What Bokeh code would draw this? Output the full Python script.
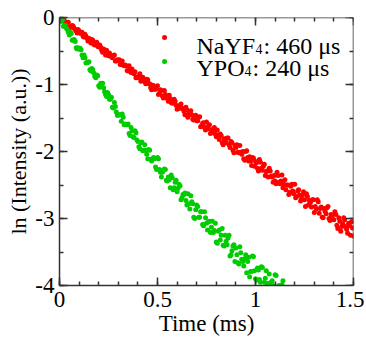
from bokeh.plotting import figure
from bokeh.models import Range1d, LinearAxis, Label, SingleIntervalTicker, CustomJSTickFormatter
from bokeh.embed import file_html
from bokeh.resources import INLINE

# ---------------- data ----------------
time_ms = [
    0.00, 0.01, 0.02, 0.03, 0.04, 0.05, 0.06, 0.07, 0.08, 0.09,
    0.10, 0.11, 0.12, 0.13, 0.14, 0.15, 0.16, 0.17, 0.18, 0.19,
    0.20, 0.21, 0.22, 0.23, 0.24, 0.25, 0.26, 0.27, 0.28, 0.29,
    0.30, 0.31, 0.32, 0.33, 0.34, 0.35, 0.36, 0.37, 0.38, 0.39,
    0.40, 0.41, 0.42, 0.43, 0.44, 0.45, 0.46, 0.47, 0.48, 0.49,
    0.50, 0.51, 0.52, 0.53, 0.54, 0.55, 0.56, 0.57, 0.58, 0.59,
    0.60, 0.61, 0.62, 0.63, 0.64, 0.65, 0.66, 0.67, 0.68, 0.69,
    0.70, 0.71, 0.72, 0.73, 0.74, 0.75, 0.76, 0.77, 0.78, 0.79,
    0.80, 0.81, 0.82, 0.83, 0.84, 0.85, 0.86, 0.87, 0.88, 0.89,
    0.90, 0.91, 0.92, 0.93, 0.94, 0.95, 0.96, 0.97, 0.98, 0.99,
    1.00, 1.01, 1.02, 1.03, 1.04, 1.05, 1.06, 1.07, 1.08, 1.09,
    1.10, 1.11, 1.12, 1.13, 1.14, 1.15, 1.16, 1.17, 1.18, 1.19,
    1.20, 1.21, 1.22, 1.23, 1.24, 1.25, 1.26, 1.27, 1.28, 1.29,
    1.30, 1.31, 1.32, 1.33, 1.34, 1.35, 1.36, 1.37, 1.38, 1.39,
    1.40, 1.41, 1.42, 1.43, 1.44, 1.45, 1.46, 1.47, 1.48, 1.49, 1.50,
]

ln_nayf4 = [
    0.01, -0.04, -0.02, -0.07, -0.07, -0.14, -0.13, -0.13, -0.18, -0.23,
    -0.20, -0.24, -0.28, -0.25, -0.31, -0.31, -0.38, -0.34, -0.41, -0.37,
    -0.44, -0.44, -0.52, -0.49, -0.49, -0.57, -0.56, -0.60, -0.56, -0.65,
    -0.64, -0.70, -0.65, -0.72, -0.72, -0.80, -0.78, -0.77, -0.84, -0.90,
    -0.90, -0.84, -0.93, -0.93, -0.99, -0.93, -0.99, -1.08, -1.02, -1.07,
    -1.02, -1.13, -1.09, -1.20, -1.15, -1.21, -1.16, -1.27, -1.26, -1.25,
    -1.37, -1.35, -1.29, -1.36, -1.45, -1.38, -1.44, -1.39, -1.52, -1.48,
    -1.54, -1.49, -1.63, -1.58, -1.64, -1.56, -1.66, -1.73, -1.67, -1.64,
    -1.78, -1.76, -1.74, -1.87, -1.81, -1.87, -1.80, -1.94, -1.87, -2.02,
    -1.94, -2.01, -1.91, -2.04, -2.11, -2.00, -2.09, -2.08, -2.21, -2.10,
    -2.15, -2.25, -2.12, -2.25, -2.22, -2.36, -2.29, -2.25, -2.37, -2.46,
    -2.44, -2.31, -2.46, -2.44, -2.54, -2.42, -2.50, -2.64, -2.52, -2.59,
    -2.49, -2.67, -2.57, -2.74, -2.65, -2.72, -2.63, -2.80, -2.76, -2.72,
    -2.91, -2.86, -2.75, -2.85, -2.98, -2.85, -2.93, -2.82, -3.03, -2.95,
    -3.02, -2.94, -3.15, -3.04, -3.12, -2.99, -3.12, -3.22, -3.11, -3.05, -3.26,
]

ln_ypo4 = [
    0.01, -0.06, -0.13, -0.12, -0.18, -0.26, -0.24, -0.34, -0.36, -0.47,
    -0.47, -0.48, -0.60, -0.60, -0.67, -0.66, -0.80, -0.78, -0.88, -0.86,
    -1.02, -0.98, -0.98, -1.11, -1.18, -1.15, -1.22, -1.34, -1.27, -1.41,
    -1.46, -1.45, -1.44, -1.60, -1.60, -1.59, -1.76, -1.69, -1.79, -1.72,
    -1.85, -1.96, -1.86, -1.98, -1.98, -2.11, -1.98, -2.14, -2.09, -2.23,
    -2.09, -2.27, -2.38, -2.28, -2.27, -2.44, -2.42, -2.35, -2.57, -2.46,
    -2.60, -2.49, -2.72, -2.64, -2.62, -2.80, -2.78, -2.66, -2.78, -3.00,
    -2.80, -2.98, -2.90, -3.09, -2.90, -3.07, -3.05, -3.21, -3.04, -3.18,
    -3.35, -3.19, -3.32, -3.15, -3.41, -3.34, -3.29, -3.56, -3.48, -3.39,
    -3.44, -3.66, -3.42, -3.61, -3.71, -3.54, -3.64, -3.87, -3.79, -3.57,
    -3.90, -3.74, -3.91, -3.72, -4.04, -3.89, -3.97, -3.83, -4.12, -4.00,
    -3.84, -4.10, -4.00, -4.27, -3.93, -4.14,
]

time_ms_half = [
    0.005, 0.015, 0.025, 0.035, 0.045, 0.055, 0.065, 0.075, 0.085, 0.095,
    0.105, 0.115, 0.125, 0.135, 0.145, 0.155, 0.165, 0.175, 0.185, 0.195,
    0.205, 0.215, 0.225, 0.235, 0.245, 0.255, 0.265, 0.275, 0.285, 0.295,
    0.305, 0.315, 0.325, 0.335, 0.345, 0.355, 0.365, 0.375, 0.385, 0.395,
    0.405, 0.415, 0.425, 0.435, 0.445, 0.455, 0.465, 0.475, 0.485, 0.495,
    0.505, 0.515, 0.525, 0.535, 0.545, 0.555, 0.565, 0.575, 0.585, 0.595,
    0.605, 0.615, 0.625, 0.635, 0.645, 0.655, 0.665, 0.675, 0.685, 0.695,
    0.705, 0.715, 0.725, 0.735, 0.745, 0.755, 0.765, 0.775, 0.785, 0.795,
    0.805, 0.815, 0.825, 0.835, 0.845, 0.855, 0.865, 0.875, 0.885, 0.895,
    0.905, 0.915, 0.925, 0.935, 0.945, 0.955, 0.965, 0.975, 0.985, 0.995,
    1.005, 1.015, 1.025, 1.035, 1.045, 1.055, 1.065, 1.075, 1.085, 1.095,
    1.105, 1.115, 1.125, 1.135, 1.145, 1.155, 1.165, 1.175, 1.185, 1.195,
    1.205, 1.215, 1.225, 1.235, 1.245, 1.255, 1.265, 1.275, 1.285, 1.295,
    1.305, 1.315, 1.325, 1.335, 1.345, 1.355, 1.365, 1.375, 1.385, 1.395,
    1.405, 1.415, 1.425, 1.435, 1.445, 1.455, 1.465, 1.475, 1.485, 1.495,
]

ln_nayf4_half = [
    -0.03, -0.02, -0.05, -0.09, -0.07, -0.15, -0.12, -0.16, -0.20, -0.18,
    -0.23, -0.22, -0.29, -0.28, -0.35, -0.33, -0.33, -0.40, -0.39, -0.43,
    -0.41, -0.49, -0.47, -0.56, -0.53, -0.53, -0.59, -0.57, -0.65, -0.63,
    -0.63, -0.70, -0.71, -0.71, -0.79, -0.72, -0.82, -0.82, -0.81, -0.89,
    -0.87, -0.95, -0.89, -0.96, -0.92, -0.99, -1.05, -1.01, -1.07, -1.06,
    -1.15, -1.08, -1.17, -1.09, -1.18, -1.25, -1.21, -1.28, -1.22, -1.31,
    -1.36, -1.31, -1.36, -1.40, -1.34, -1.49, -1.41, -1.45, -1.53, -1.46,
    -1.54, -1.48, -1.62, -1.57, -1.68, -1.63, -1.60, -1.72, -1.69, -1.74,
    -1.68, -1.82, -1.76, -1.90, -1.83, -1.80, -1.90, -1.85, -1.98, -1.91,
    -1.90, -2.02, -2.01, -2.00, -2.13, -1.99, -2.14, -2.14, -2.09, -2.22,
    -2.17, -2.29, -2.16, -2.28, -2.19, -2.30, -2.38, -2.29, -2.38, -2.36,
    -2.48, -2.36, -2.48, -2.35, -2.49, -2.57, -2.50, -2.61, -2.49, -2.63,
    -2.69, -2.59, -2.65, -2.71, -2.60, -2.82, -2.67, -2.73, -2.83, -2.72,
    -2.82, -2.72, -2.92, -2.83, -2.99, -2.89, -2.84, -3.00, -2.94, -3.01,
    -2.90, -3.10, -2.99, -3.19, -3.08, -3.02, -3.16, -3.07, -3.25, -3.14,
]

ln_ypo4_half = [
    -0.02, -0.04, -0.13, -0.16, -0.22, -0.22, -0.34, -0.33, -0.45, -0.45,
    -0.46, -0.56, -0.56, -0.68, -0.67, -0.78, -0.76, -0.83, -0.90, -0.87,
    -1.04, -0.99, -1.05, -1.15, -1.12, -1.22, -1.19, -1.35, -1.33, -1.46,
    -1.45, -1.55, -1.49, -1.59, -1.60, -1.73, -1.64, -1.78, -1.69, -1.83,
    -1.93, -1.87, -1.99, -1.90, -2.04, -1.97, -2.12, -2.11, -2.11, -2.27,
    -2.11, -2.31, -2.31, -2.26, -2.43, -2.38, -2.54, -2.39, -2.54, -2.43,
    -2.55, -2.51, -2.69, -2.64, -2.73, -2.63, -2.86, -2.75, -2.98, -2.87,
    -2.82, -2.98, -2.90, -3.11, -2.99, -3.17, -3.04, -3.13, -3.21, -3.07,
    -3.37, -3.17, -3.25, -3.40, -3.25, -3.39, -3.25, -3.54, -3.41, -3.64,
    -3.54, -3.68, -3.51, -3.64, -3.60, -3.81, -3.58, -3.79, -3.56, -3.78,
    -3.92, -3.77, -3.95, -3.73, -3.95, -3.78, -4.02, -3.96, -3.93, -4.17,
    -3.85, -4.15, -4.11, -3.99, -4.23,
]

x_tick_values = [0, 0.5, 1, 1.5]
x_tick_labels = ["0", "0.5", "1", "1.5"]
y_tick_values = [0, -1, -2, -3, -4]
y_tick_labels = ["0", "-1", "-2", "-3", "-4"]

x_title = "Time (ms)"
y_title = "ln (Intensity (a.u.))"

legend_main = ["NaYF", "YPO"]
legend_sub = ["4", "4"]
legend_tail = [": 460 \u03bcs", ": 240 \u03bcs"]

# ---------------- styles ----------------
RED = "#ff0000"
GREEN = "#00cc00"
AXIS_COLOR = "#333333"
FONT = "Liberation Serif"
DOT = 5

p = figure(
    width=364, height=341,
    output_backend="svg", toolbar_location=None,
    x_range=Range1d(0, 1.5), y_range=Range1d(-4, 0),
    min_border_left=59, min_border_right=11, min_border_top=17, min_border_bottom=56,
    x_axis_label=x_title, y_axis_label=y_title,
)
p.grid.visible = False
p.outline_line_color = None
p.background_fill_color = "white"
p.border_fill_color = "white"

p.scatter(time_ms, ln_nayf4, size=DOT, fill_color=RED, line_color=None)
p.scatter(time_ms_half, ln_nayf4_half, size=DOT, fill_color=RED, line_color=None)
p.scatter(time_ms[:len(ln_ypo4)], ln_ypo4, size=DOT, fill_color=GREEN, line_color=None)
p.scatter(time_ms_half[:len(ln_ypo4_half)], ln_ypo4_half, size=DOT, fill_color=GREEN, line_color=None)

x_ticker = SingleIntervalTicker(interval=0.5, num_minor_ticks=5)
y_ticker = SingleIntervalTicker(interval=1, num_minor_ticks=2)
blank = CustomJSTickFormatter(code="return ''")

# mirrored axes on the top and right frame edges (ticks only)
top_axis = LinearAxis(fixed_location=0)
right_axis = LinearAxis(fixed_location=1.5)
p.add_layout(top_axis, "above")
p.add_layout(right_axis, "right")


def style_axis(ax, ticker):
    ax.ticker = ticker
    ax.axis_line_color = AXIS_COLOR
    ax.axis_line_width = 1.5
    ax.major_tick_line_color = AXIS_COLOR
    ax.major_tick_line_width = 1.5
    ax.minor_tick_line_color = AXIS_COLOR
    ax.minor_tick_line_width = 1.5
    ax.major_tick_in = 8
    ax.major_tick_out = 0
    ax.minor_tick_in = 4
    ax.minor_tick_out = 0
    ax.major_label_text_font = FONT
    ax.major_label_text_font_size = "23px"
    ax.major_label_text_color = "black"
    ax.axis_label_text_font = FONT
    ax.axis_label_text_font_size = "23px"
    ax.axis_label_text_font_style = "normal"
    ax.axis_label_text_color = "black"


for ax in p.below:
    style_axis(ax, x_ticker)
    ax.major_label_overrides = dict(zip([float(v) for v in x_tick_values], x_tick_labels))
    ax.major_label_standoff = 6
    ax.axis_label_standoff = 1
for ax in p.left:
    style_axis(ax, y_ticker)
    ax.major_label_overrides = dict(zip([float(v) for v in y_tick_values], y_tick_labels))
    ax.major_label_standoff = 5
    ax.axis_label_standoff = 1
    ax.axis_label_text_font_size = "22px"
style_axis(top_axis, x_ticker)
style_axis(right_axis, y_ticker)
for ax in (top_axis, right_axis):
    ax.formatter = blank
    ax.major_label_text_font_size = "0px"
    ax.major_label_standoff = 0

# ---------------- legend (manual, for subscripts) ----------------
LEG_MARK_X = 0.536
LEG_TEXT_X = 0.699
LEG_Y = [-0.30, -0.657]
LEG_BASE = [-0.418, -0.761]
SUB_OFFSET = [59, 48]

p.scatter([LEG_MARK_X], [LEG_Y[0]], size=DOT, fill_color=RED, line_color=None)
p.scatter([LEG_MARK_X], [LEG_Y[1]], size=DOT, fill_color=GREEN, line_color=None)

for i in range(2):
    common = dict(x=LEG_TEXT_X, y=LEG_BASE[i], text_font=FONT, text_color="black",
                  text_baseline="alphabetic", text_align="left")
    p.add_layout(Label(text=legend_main[i], text_font_size="24px", **common))
    p.add_layout(Label(text=legend_sub[i], text_font_size="14px",
                       x_offset=SUB_OFFSET[i], y_offset=-3, **common))
    p.add_layout(Label(text=legend_tail[i], text_font_size="24px",
                       x_offset=SUB_OFFSET[i] + 8, **common))

open("out.html", "w").write(file_html(p, INLINE))
